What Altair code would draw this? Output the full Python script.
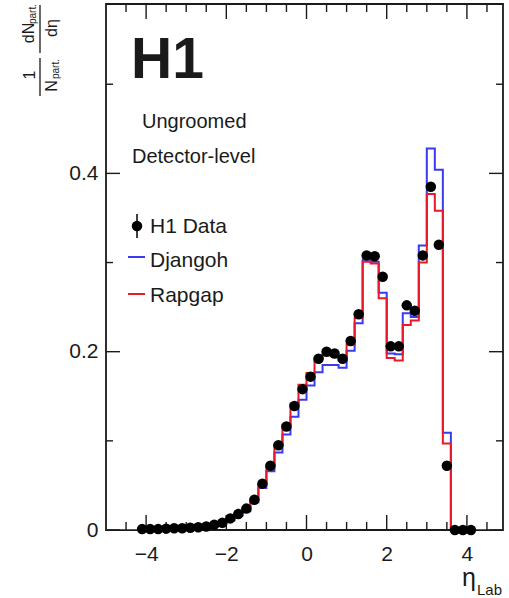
import altair as alt
import pandas as pd

# ---------------- data ----------------
eta_centers = [-4.1, -3.9, -3.7, -3.5, -3.3, -3.1, -2.9, -2.7, -2.5, -2.3, -2.1,
               -1.9, -1.7, -1.5, -1.3, -1.1, -0.9, -0.7, -0.5, -0.3, -0.1,
               0.1, 0.3, 0.5, 0.7, 0.9, 1.1, 1.3, 1.5, 1.7, 1.9,
               2.1, 2.3, 2.5, 2.7, 2.9, 3.1, 3.3, 3.5, 3.7, 3.9, 4.1]
h1_data = [0.001, 0.001, 0.001, 0.0015, 0.002, 0.002, 0.0025, 0.003, 0.004, 0.006, 0.008,
           0.013, 0.018, 0.024, 0.034, 0.052, 0.072, 0.095, 0.116, 0.139, 0.158,
           0.172, 0.192, 0.200, 0.198, 0.192, 0.212, 0.242, 0.308, 0.307, 0.284,
           0.206, 0.206, 0.252, 0.246, 0.308, 0.385, 0.320, 0.072, 0.0, 0.0, 0.0]

bin_edges = [-5.0, -4.8, -4.6, -4.4, -4.2, -4.0, -3.8, -3.6, -3.4, -3.2, -3.0,
             -2.8, -2.6, -2.4, -2.2, -2.0, -1.8, -1.6, -1.4, -1.2, -1.0,
             -0.8, -0.6, -0.4, -0.2, 0.0, 0.2, 0.4, 0.6, 0.8, 1.0,
             1.2, 1.4, 1.6, 1.8, 2.0, 2.2, 2.4, 2.6, 2.8, 3.0,
             3.2, 3.4, 3.6, 3.8, 4.0, 4.2, 4.4, 4.6, 4.8, 5.0]
rapgap = [0, 0, 0, 0,
          0.001, 0.001, 0.001, 0.0015, 0.002, 0.002, 0.0025, 0.003, 0.004, 0.006, 0.008,
          0.012, 0.017, 0.023, 0.034, 0.051, 0.072, 0.096, 0.118, 0.142, 0.163,
          0.176, 0.192, 0.197, 0.195, 0.190, 0.208, 0.238, 0.301, 0.299, 0.260,
          0.193, 0.190, 0.230, 0.235, 0.300, 0.377, 0.358, 0.097,
          0, 0, 0, 0, 0, 0, 0]
djangoh = [0, 0, 0, 0,
           0.001, 0.001, 0.001, 0.0015, 0.002, 0.002, 0.0025, 0.003, 0.004, 0.005, 0.007,
           0.011, 0.016, 0.021, 0.031, 0.047, 0.066, 0.087, 0.107, 0.127, 0.146,
           0.162, 0.177, 0.185, 0.185, 0.182, 0.201, 0.232, 0.303, 0.301, 0.266,
           0.198, 0.197, 0.243, 0.239, 0.319, 0.428, 0.404, 0.109,
           0, 0, 0, 0, 0, 0, 0]

x_major = [-4, -2, 0, 2, 4]
x_minor = [-4.5, -3.5, -3, -2.5, -1.5, -1, -0.5, 0.5, 1, 1.5, 2.5, 3, 3.5, 4.5]
y_major = [0, 0.2, 0.4]
y_minor = [0.1, 0.3, 0.5]

# ---------------- layout / style ----------------
W, H = 397, 526
FONT = "Liberation Sans"
BLUE = "#3a3af0"
RED = "#e8192c"
INK = "#1a1a1a"
DOT = 110

xs = alt.Scale(domain=[-5, 4.9], nice=False, zero=False)
ys = alt.Scale(domain=[0, 0.59], nice=False, zero=False)

hist = pd.DataFrame({"eta": bin_edges,
                     "dj": djangoh + [djangoh[-1]],
                     "rg": rapgap + [rapgap[-1]]})
pts = pd.DataFrame({"eta": eta_centers, "v": h1_data})

xaxis = alt.Axis(values=x_major, ticks=False, domain=False, grid=False,
                 labelFontSize=21, labelFont=FONT, labelColor=INK,
                 labelPadding=13, title=None, format="d")
yaxis = alt.Axis(values=y_major, ticks=False, domain=False, grid=False,
                 labelFontSize=21, labelFont=FONT, labelColor=INK,
                 labelPadding=8, title=None, format="~g")

def X(f):
    return alt.X(f, scale=xs, axis=xaxis, title=None)

def Y(f):
    return alt.Y(f, scale=ys, axis=yaxis, title=None)

blue = alt.Chart(hist).mark_line(interpolate="step-after", color=BLUE,
                                 strokeWidth=2, clip=True).encode(
    x=X("eta:Q"), y=Y("dj:Q"))
red = alt.Chart(hist).mark_line(interpolate="step-after", color=RED,
                                strokeWidth=2, clip=True).encode(
    x=X("eta:Q"), y=Y("rg:Q"))
points = alt.Chart(pts).mark_circle(size=DOT, color="black", opacity=1).encode(
    x=X("eta:Q"), y=Y("v:Q"))

# inward ticks on all four sides
def xticks(vals, L):
    d = pd.DataFrame({"t": vals})
    b = alt.Chart(d).mark_rule(color=INK, strokeWidth=1.4).encode(
        x=X("t:Q"), y=alt.value(H), y2=alt.value(H - L))
    t = alt.Chart(d).mark_rule(color=INK, strokeWidth=1.4).encode(
        x=X("t:Q"), y=alt.value(0), y2=alt.value(L))
    return [b, t]

def yticks(vals, L):
    d = pd.DataFrame({"t": vals})
    l = alt.Chart(d).mark_rule(color=INK, strokeWidth=1.4).encode(
        y=Y("t:Q"), x=alt.value(0), x2=alt.value(L))
    r = alt.Chart(d).mark_rule(color=INK, strokeWidth=1.4).encode(
        y=Y("t:Q"), x=alt.value(W), x2=alt.value(W - L))
    return [l, r]

ticks = xticks(x_major, 15) + xticks(x_minor, 8) + yticks(y_major, 14) + yticks(y_minor, 7)

one = alt.Data(values=[{"k": 1}])

def txt(s, x, y, size, align="left", baseline="alphabetic", angle=0, weight="normal"):
    return alt.Chart(one).mark_text(text=s, fontSize=size, font=FONT, align=align,
                                    baseline=baseline, angle=angle, fontWeight=weight,
                                    color=INK).encode(x=alt.value(x), y=alt.value(y))

def seg(x, y, x2, y2, color, sw):
    return alt.Chart(one).mark_rule(color=color, strokeWidth=sw).encode(
        x=alt.value(x), y=alt.value(y), x2=alt.value(x2), y2=alt.value(y2))

annot = [
    txt("H1", 25, 74, 57, weight="bold"),
    txt("Ungroomed", 36, 124, 20),
    txt("Detector-level", 26, 159, 20),
    # legend
    seg(31, 210, 31, 234, "black", 1.5),
    alt.Chart(one).mark_circle(size=DOT, color="black", opacity=1).encode(
        x=alt.value(31), y=alt.value(222)),
    txt("H1 Data", 44, 229, 21),
    seg(22, 253, 39, 253, BLUE, 2),
    txt("Djangoh", 44, 263, 21),
    seg(22, 290, 39, 290, RED, 2),
    txt("Rapgap", 44, 298, 21),
    # y title: 1/N_part. dN_part./deta
    txt("dN", -77, 29, 16, align="center", baseline="middle", angle=270),
    txt("part.", -73, 10, 10, align="center", baseline="middle", angle=270),
    seg(-66, 1, -66, 49, INK, 1.3),
    txt("dη", -54, 24, 16, align="center", baseline="middle", angle=270),
    txt("1", -76, 71, 16, align="center", baseline="middle", angle=270),
    seg(-66, 54, -66, 92, INK, 1.3),
    txt("N", -54, 82, 16, align="center", baseline="middle", angle=270),
    txt("part.", -50, 65, 10, align="center", baseline="middle", angle=270),
    # x title
    txt("η", 356, 582, 25),
    txt("Lab", 371, 591, 15),
]

chart = alt.layer(blue, red, *ticks, points, *annot).properties(
    width=W, height=H,
    background="white",
    autosize=alt.AutoSizeParams(type="none"),
    padding={"left": 106, "top": 4, "right": 6, "bottom": 68},
).configure_view(stroke=INK, strokeWidth=1.8)

chart.save("out.html", embed_options={"renderer": "svg", "actions": False})
